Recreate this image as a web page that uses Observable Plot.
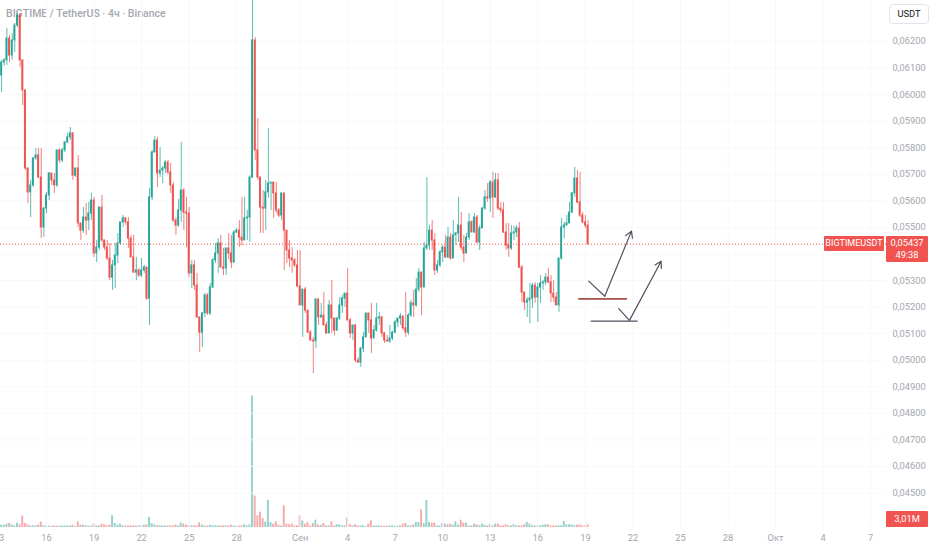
<!DOCTYPE html>
<html>
<head>
<meta charset="utf-8">
<script src="https://cdn.jsdelivr.net/npm/d3@7"></script>
<script src="https://cdn.jsdelivr.net/npm/@observablehq/plot@0.6"></script>
<style>
  html, body { margin: 0; padding: 0; background: #ffffff; }
  #wrap { position: relative; width: 932px; height: 550px; overflow: hidden; font-family: Roboto, "Liberation Sans", sans-serif; }
  #wrap svg { position: absolute; left: 0; top: 0; }
  .title { position: absolute; left: 6px; top: 7px; font-size: 10.5px; font-weight: 500; color: #a3a6ae; white-space: nowrap; }
  .tag { position: absolute; background: #f05350; color: #ffffff; font-size: 9.3px; white-space: nowrap; text-align: center; border-radius: 1px; }
  .unit { position: absolute; left: 889px; top: 4px; width: 38px; height: 18px; border: 1px solid #e0e3eb; border-radius: 4px; font-size: 9.3px; line-height: 18px; text-align: center; color: #131722; background: #fff; }
</style>
</head>
<body>
<div id="wrap"></div>
<script>
// ---------- data (BIGTIME / USDT, 4h candles, Binance) ----------
const title = "BIGTIME / TetherUS · 4ч · Binance";
const symbol = "BIGTIMEUSDT";
const currency = "USDT";
const countdown = "49:38";
const lastPrice = 0.05437;
const lastVolumeLabel = "3,01M";
const lastVolume = 3.01;

const firstCandle = "2024-08-13T04:00Z";
const stepHours = 4;
const firstOpen = 0.06072;

const close = [
  0.06121,0.06129,0.06211,0.06147,0.06204,0.06260,0.06298,0.06129,0.06016,0.05722,
  0.05632,0.05658,0.05760,0.05771,0.05688,0.05500,0.05571,0.05620,0.05703,0.05677,
  0.05658,0.05790,0.05752,0.05790,0.05820,0.05839,0.05854,0.05695,0.05722,0.05515,
  0.05488,0.05537,0.05526,0.05552,0.05601,0.05402,0.05424,0.05575,0.05451,0.05424,
  0.05383,0.05311,0.05357,0.05394,0.05440,0.05519,0.05534,0.05519,0.05458,0.05387,
  0.05330,0.05338,0.05319,0.05338,0.05349,0.05232,0.05613,
  0.05782,0.05827,0.05703,0.05714,0.05722,0.05744,0.05707,0.05658,0.05526,0.05507,
  0.05564,0.05639,0.05556,0.05552,0.05327,0.05357,0.05281,0.05161,0.05104,0.05176,
  0.05244,0.05176,0.05274,0.05376,0.05402,0.05440,0.05349,0.05345,0.05421,0.05402,
  0.05368,0.05481,0.05488,0.05462,0.05451,0.05534,0.05537,0.05688,0.06204,0.05790,
  0.05688,0.05575,0.05571,0.05632,0.05665,0.05669,0.05628,0.05564,0.05545,0.05628,
  0.05488,0.05413,0.05383,0.05376,0.05357,
  0.05278,0.05206,0.05266,0.05187,0.05104,0.05074,0.05071,0.05229,0.05161,0.05168,
  0.05131,0.05101,0.05206,0.05157,0.05112,0.05157,0.05206,0.05232,0.05251,0.05150,
  0.05101,0.05131,0.04999,0.04991,0.05044,0.05086,0.05176,0.05150,0.05082,0.05112,
  0.05157,0.05161,0.05101,0.05074,0.05071,0.05082,0.05104,0.05142,0.05157,0.05165,
  0.05120,0.05104,0.05168,0.05214,0.05206,0.05266,0.05330,0.05274,0.05421,0.05432,
  0.05488,0.05451,0.05338,
  0.05357,0.05406,0.05424,0.05387,0.05462,0.05383,0.05470,0.05477,0.05507,0.05424,
  0.05402,0.05462,0.05519,0.05481,0.05537,0.05443,0.05496,0.05571,0.05613,0.05609,
  0.05669,0.05613,0.05677,0.05571,0.05564,0.05481,0.05432,0.05421,0.05477,0.05481,
  0.05496,0.05349,0.05255,0.05217,0.05225,0.05232,0.05281,0.05236,0.05274,0.05289,
  0.05293,0.05311,0.05293,0.05251,0.05236,0.05206,0.05383,0.05500,0.05507,0.05515,
  0.05556,0.05628,0.05684,0.05594,0.05545,0.05519,0.05507,0.05437
];

const high = [
  0.06129,0.06136,0.06249,0.06223,0.06230,0.06268,0.06305,0.06305,0.06129,0.06016,
  0.05722,0.05677,0.05763,0.05797,0.05797,0.05797,0.05575,0.05632,0.05707,0.05703,
  0.05703,0.05790,0.05797,0.05797,0.05824,0.05854,0.05876,0.05857,0.05722,0.05771,
  0.05515,0.05575,0.05590,0.05594,0.05628,0.05613,0.05451,0.05575,0.05620,0.05451,
  0.05451,0.05440,0.05376,0.05440,0.05477,0.05519,0.05545,0.05537,0.05537,0.05470,
  0.05470,0.05387,0.05345,0.05383,0.05357,0.05349,0.05647,
  0.05790,0.05842,0.05839,0.05801,0.05729,0.05752,0.05752,0.05741,0.05669,0.05537,
  0.05605,0.05820,0.05647,0.05613,0.05575,0.05376,0.05376,0.05327,0.05161,0.05180,
  0.05251,0.05251,0.05289,0.05383,0.05440,0.05458,0.05470,0.05421,0.05421,0.05477,
  0.05470,0.05488,0.05496,0.05526,0.05613,0.05613,0.05564,0.05695,0.06354,0.06215,
  0.05910,0.05688,0.05639,0.05677,0.05872,0.05669,0.05669,0.05669,0.05571,0.05628,
  0.05628,0.05488,0.05451,0.05424,0.05383,
  0.05413,0.05413,0.05266,0.05274,0.05187,0.05112,0.05086,0.05229,0.05229,0.05214,
  0.05255,0.05142,0.05225,0.05300,0.05157,0.05161,0.05236,0.05244,0.05251,0.05345,
  0.05157,0.05131,0.05135,0.05010,0.05048,0.05104,0.05176,0.05176,0.05214,0.05131,
  0.05214,0.05180,0.05165,0.05104,0.05093,0.05131,0.05108,0.05150,0.05157,0.05176,
  0.05165,0.05255,0.05176,0.05225,0.05263,0.05308,0.05345,0.05330,0.05443,0.05688,
  0.05507,0.05526,0.05477,
  0.05376,0.05413,0.05432,0.05470,0.05500,0.05477,0.05526,0.05481,0.05613,0.05556,
  0.05470,0.05477,0.05552,0.05526,0.05552,0.05545,0.05507,0.05575,0.05639,0.05665,
  0.05677,0.05707,0.05703,0.05703,0.05594,0.05594,0.05515,0.05515,0.05507,0.05504,
  0.05507,0.05519,0.05357,0.05255,0.05236,0.05289,0.05289,0.05293,0.05289,0.05319,
  0.05300,0.05327,0.05345,0.05319,0.05300,0.05255,0.05383,0.05534,0.05519,0.05545,
  0.05594,0.05632,0.05726,0.05714,0.05707,0.05556,0.05545,0.05526
];

const low = [
  0.06008,0.06106,0.06110,0.06121,0.06129,0.06159,0.06253,0.06102,0.05959,0.05714,
  0.05590,0.05537,0.05650,0.05752,0.05684,0.05458,0.05462,0.05552,0.05601,0.05658,
  0.05628,0.05650,0.05741,0.05744,0.05782,0.05816,0.05827,0.05677,0.05688,0.05500,
  0.05451,0.05477,0.05470,0.05488,0.05526,0.05387,0.05368,0.05413,0.05443,0.05413,
  0.05376,0.05300,0.05263,0.05270,0.05364,0.05432,0.05500,0.05507,0.05421,0.05387,
  0.05327,0.05300,0.05311,0.05311,0.05327,0.05225,0.05131,
  0.05601,0.05782,0.05650,0.05688,0.05665,0.05703,0.05699,0.05628,0.05519,0.05470,
  0.05500,0.05519,0.05488,0.05424,0.05311,0.05270,0.05263,0.05157,0.05029,0.05048,
  0.05161,0.05168,0.05168,0.05270,0.05364,0.05327,0.05349,0.05319,0.05319,0.05376,
  0.05345,0.05364,0.05477,0.05424,0.05432,0.05451,0.05451,0.05443,0.05684,0.05752,
  0.05677,0.05477,0.05477,0.05488,0.05609,0.05564,0.05534,0.05552,0.05537,0.05526,
  0.05338,0.05364,0.05349,0.05327,0.05349,
  0.05274,0.05206,0.05086,0.05176,0.05101,0.05074,0.04950,0.05044,0.05131,0.05157,
  0.05131,0.05097,0.05101,0.05101,0.05093,0.05108,0.05150,0.05176,0.05199,0.05150,
  0.05082,0.05074,0.04991,0.04988,0.04973,0.05029,0.05086,0.05101,0.05025,0.05086,
  0.05105,0.05131,0.05086,0.05063,0.05067,0.05063,0.05074,0.05101,0.05123,0.05131,
  0.05112,0.05086,0.05093,0.05161,0.05161,0.05200,0.05255,0.05168,0.05274,0.05413,
  0.05413,0.05413,0.05319,
  0.05327,0.05349,0.05368,0.05383,0.05383,0.05376,0.05383,0.05432,0.05443,0.05413,
  0.05368,0.05402,0.05451,0.05481,0.05477,0.05440,0.05413,0.05496,0.05564,0.05594,
  0.05556,0.05534,0.05609,0.05564,0.05552,0.05477,0.05413,0.05387,0.05413,0.05451,
  0.05462,0.05345,0.05217,0.05187,0.05161,0.05138,0.05195,0.05214,0.05142,0.05214,
  0.05263,0.05281,0.05289,0.05217,0.05217,0.05206,0.05180,0.05376,0.05458,0.05507,
  0.05515,0.05552,0.05613,0.05590,0.05537,0.05515,0.05496,0.05432
];

// volume, millions of BIGTIME
const volumeM = [
  2.6,2.6,3.7,4.4,3.0,1.8,4.8,3.0,12.6,4.4,
  3.0,1.8,1.8,1.8,2.6,5.9,1.8,1.8,1.5,1.1,
  1.8,1.5,1.5,1.8,1.8,1.8,1.8,2.6,1.1,6.3,
  2.6,2.6,1.8,1.5,1.5,3.7,1.8,1.8,3.7,3.0,
  1.8,2.6,13.0,4.4,2.6,3.7,1.8,1.8,1.8,1.8,
  1.8,1.8,1.8,2.2,2.6,3.0,11.1,4.4,3.0,2.2,
  1.8,1.8,1.8,1.8,1.8,1.8,2.6,1.8,4.8,3.7,
  2.6,1.8,1.8,1.8,1.8,5.2,2.6,1.8,1.5,2.6,
  1.8,1.8,1.8,1.8,1.8,1.8,1.8,2.6,1.8,1.5,
  1.5,1.8,3.0,1.8,3.0,146,35,13,17,10,
  6.0,30,5.5,3.7,6.3,2.6,1.8,24,3.7,3.0,
  3.7,1.8,1.8,13,7.4,3.7,5.2,1.5,4.4,8.1,
  2.6,2.6,4.4,1.8,1.8,6.3,1.8,3.0,3.0,1.8,
  1.8,11,3.0,1.8,3.0,1.8,1.8,1.8,1.0,3.7,
  7.4,1.8,1.8,1.8,1.5,1.5,1.5,1.8,1.8,1.8,
  1.5,1.8,3.7,4.4,1.8,1.8,3.0,5.5,5.5,19.6,
  4.4,30,5.5,4.8,4.8,1.8,1.8,4.8,3.7,3.0,
  3.7,2.6,6.3,2.6,8.1,4.8,4.8,1.8,1.8,3.7,
  3.0,1.8,3.7,2.6,1.8,3.7,1.8,3.7,3.7,1.8,
  1.8,3.0,1.8,1.8,3.0,1.8,1.8,1.8,3.0,5.5,
  3.7,1.8,1.8,1.8,1.8,2.6,3.0,3.0,1.8,1.8,
  1.8,1.8,1.8,6.7,3.0,3.0,3.0,1.8,2.6,3.0,
  1.8,1.8,3.01
];

const tickDates = ["2024-08-13","2024-08-16","2024-08-19","2024-08-22","2024-08-25","2024-08-28",
  "2024-09-01","2024-09-04","2024-09-07","2024-09-10","2024-09-13","2024-09-16","2024-09-19",
  "2024-09-22","2024-09-25","2024-09-28","2024-10-01","2024-10-04","2024-10-07"];
const tickLabels = ["13","16","19","22","25","28","Сен","4","7","10","13","16","19","22","25","28","Окт","4","7"];
const priceTicks = [0.045,0.046,0.047,0.048,0.049,0.050,0.051,0.052,0.053,0.054,0.055,0.056,0.057,0.058,0.059,0.060,0.061,0.062];
// the 0,05400 label is hidden behind the last-price tag, as on the reference
const hiddenPriceLabels = [0.054];

// hand-drawn annotations (time, price)
const arrowUpper = [["2024-09-19T05:00Z",0.05298],["2024-09-20T05:20Z",0.05241],["2024-09-21T21:50Z",0.05486]];
const arrowLower = [["2024-09-21T02:30Z",0.05194],["2024-09-21T18:45Z",0.05150],["2024-09-23T18:45Z",0.05373]];
const levelRed = [["2024-09-18T14:00Z",0.05231],["2024-09-21T14:15Z",0.05231]];
const levelGray = [["2024-09-19T08:45Z",0.05147],["2024-09-22T06:30Z",0.05147]];

// ---------- build ----------
const GREEN = "#26a69a", RED = "#ef5350";
const VGREEN = "rgba(38,166,154,0.5)", VRED = "rgba(239,83,80,0.5)";
const HOUR = 3600e3;
const t0 = Date.parse(firstCandle);
const candles = close.map((c, i) => {
  const open = i === 0 ? firstOpen : close[i - 1];
  return {t: new Date(t0 + i * stepHours * HOUR), open, close: c, high: high[i], low: low[i], vol: volumeM[i], up: c >= open};
});
const half = d => new Date(+d.t - 1.45 * HOUR);
const halfR = d => new Date(+d.t + 1.45 * HOUR);
const tickDateObjs = tickDates.map(s => new Date(s + "T00:00Z"));
const labelOf = new Map(tickDateObjs.map((d, i) => [+d, tickLabels[i]]));
const pt = p => ({x: new Date(p[0]), y: p[1]});
const axisPriceTicks = priceTicks.filter(v => !hiddenPriceLabels.includes(v));

const W = 932, Hh = 550, MR = 46, MB = 23;
const xScale = {type: "utc", domain: [new Date("2024-08-13T02:20Z"), new Date("2024-10-08T00:00Z")]};
const baseStyle = {background: "transparent", fontFamily: "Roboto, 'Liberation Sans', sans-serif", fontSize: "9.3px", color: "#a3a6ae"};

const volPlot = Plot.plot({
  width: W, height: Hh, marginLeft: 0, marginRight: MR, marginTop: 0, marginBottom: MB,
  style: baseStyle,
  x: {...xScale, axis: null},
  y: {domain: [0, 585], axis: null},
  color: {type: "identity"},
  marks: [
    Plot.rect(candles, {x1: half, x2: halfR, y1: 0, y2: "vol", fill: d => d.up ? VGREEN : VRED})
  ]
});

const fmtPrice = d => d.toFixed(5).replace(".", ",");
const seg = (pts) => pts.map(pt);
const pricePlot = Plot.plot({
  width: W, height: Hh, marginLeft: 0, marginRight: MR, marginTop: 0, marginBottom: MB,
  style: baseStyle,
  x: xScale,
  y: {domain: [0.043702, 0.063544]},
  color: {type: "identity"},
  marks: [
    Plot.gridY(priceTicks, {stroke: "#f7f8fa", strokeOpacity: 1}),
    Plot.gridX(tickDateObjs, {stroke: "#f7f8fa", strokeOpacity: 1}),
    Plot.ruleX(candles, {x: "t", y1: "low", y2: "high", stroke: d => d.up ? GREEN : RED, strokeWidth: 1, strokeOpacity: 0.75}),
    Plot.rect(candles, {x1: half, x2: halfR, y1: "open", y2: "close", fill: d => d.up ? GREEN : RED, insetTop: -0.5, insetBottom: -0.5}),
    Plot.ruleY([lastPrice], {stroke: RED, strokeDasharray: "1,2", strokeWidth: 1}),
    Plot.line(seg(levelRed), {x: "x", y: "y", stroke: "#a5504e", strokeWidth: 1.6}),
    Plot.line(seg(levelGray), {x: "x", y: "y", stroke: "#50535e", strokeWidth: 1.2}),
    Plot.line(seg(arrowUpper.slice(0, 2)), {x: "x", y: "y", stroke: "#50535e", strokeWidth: 1.2}),
    Plot.arrow([{a: pt(arrowUpper[1]), b: pt(arrowUpper[2])}], {x1: d => d.a.x, y1: d => d.a.y, x2: d => d.b.x, y2: d => d.b.y, stroke: "#50535e", strokeWidth: 1.2, headLength: 9}),
    Plot.line(seg(arrowLower.slice(0, 2)), {x: "x", y: "y", stroke: "#50535e", strokeWidth: 1.2}),
    Plot.arrow([{a: pt(arrowLower[1]), b: pt(arrowLower[2])}], {x1: d => d.a.x, y1: d => d.a.y, x2: d => d.b.x, y2: d => d.b.y, stroke: "#50535e", strokeWidth: 1.2, headLength: 9}),
    Plot.axisY(axisPriceTicks, {anchor: "right", tickSize: 0, tickPadding: 6, tickFormat: fmtPrice, label: null, fill: "#a3a6ae"}),
    Plot.axisX(tickDateObjs, {anchor: "bottom", tickSize: 0, tickPadding: 7, tickFormat: d => labelOf.get(+d), label: null, fill: "#a3a6ae"})
  ]
});

const wrap = document.getElementById("wrap");
const t = document.createElement("div");
t.className = "title"; t.textContent = title;
wrap.appendChild(t);
wrap.appendChild(volPlot);
wrap.appendChild(pricePlot);

// labels on the price / volume scales
const yP = pricePlot.scale("y").apply(lastPrice);
const sym = document.createElement("div");
sym.className = "tag";
Object.assign(sym.style, {left: "824px", width: "60px", top: (yP - 7.2) + "px", height: "14.4px", lineHeight: "14.4px", fontSize: "9px"});
sym.textContent = symbol;
wrap.appendChild(sym);

const pbox = document.createElement("div");
pbox.className = "tag";
Object.assign(pbox.style, {left: "886px", width: "42px", top: (yP - 7.2) + "px", height: "26px", lineHeight: "12px", paddingTop: "1px", boxSizing: "border-box", fontSize: "9.3px"});
pbox.innerHTML = fmtPrice(lastPrice) + "<br>" + countdown;
wrap.appendChild(pbox);

const yV = volPlot.scale("y").apply(lastVolume);
const vbox = document.createElement("div");
vbox.className = "tag";
const vTop = Math.min(yV - 8, Hh - MB - 16);
Object.assign(vbox.style, {left: "886px", width: "42px", top: vTop + "px", height: "16px", lineHeight: "16px", fontSize: "9.3px"});
vbox.textContent = lastVolumeLabel;
wrap.appendChild(vbox);

const unit = document.createElement("div");
unit.className = "unit"; unit.textContent = currency;
wrap.appendChild(unit);
</script>
</body>
</html>
